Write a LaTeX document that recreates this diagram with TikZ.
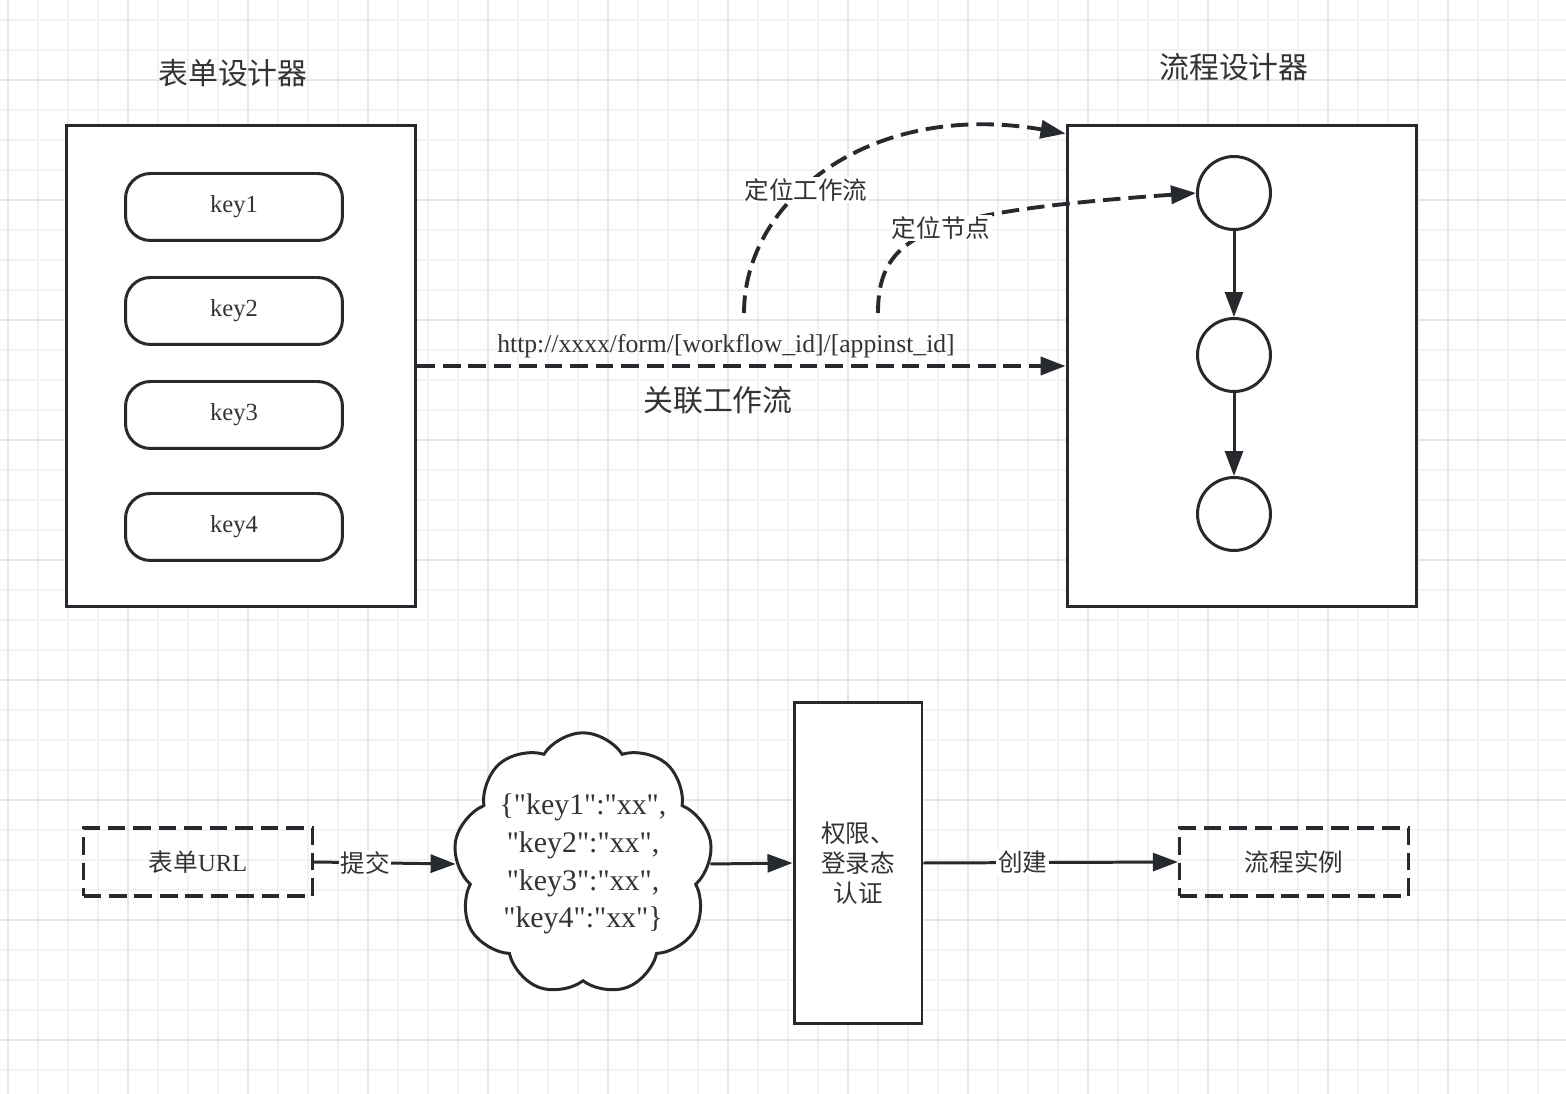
\documentclass[tikz,border=0pt]{standalone}
\usepackage{fontspec}
\setmainfont{Liberation Serif}[Ligatures=TeXOff]
\newfontfamily\cjk{Noto Sans CJK SC}
\usetikzlibrary{arrows.meta,positioning,calc,shapes.symbols}
\definecolor{inkline}{HTML}{262A2E}
\definecolor{inktext}{HTML}{333333}
\definecolor{gridminor}{HTML}{F2F2F2}
\definecolor{gridmajor}{HTML}{E6E6E6}
\newcommand{\fsnorm}{\fontsize{14pt}{17pt}\selectfont}
\newcommand{\fsbig}{\fontsize{17pt}{21.5pt}\selectfont}
\tikzset{
  framebox/.style={draw=inkline, line width=1.7pt, fill=white,
                   minimum width=7cm, minimum height=9.64cm},
  keypill/.style={draw=inkline, line width=1.7pt, fill=white, rounded corners=0.5cm,
                  minimum width=4.34cm, minimum height=1.34cm, text=inktext, font=\fsnorm},
  stepnode/.style={circle, draw=inkline, line width=1.7pt, fill=white, minimum size=1.46cm},
  dashbox/.style={draw=inkline, line width=1.9pt, dash pattern=on 10pt off 4.5pt,
                  minimum width=4.58cm, minimum height=1.36cm, text=inktext, font=\fsnorm},
  authbox/.style={draw=inkline, line width=1.7pt, fill=white, minimum width=2.56cm,
                  minimum height=6.44cm, text=inktext, font=\fsnorm, align=center},
  jsoncloud/.style={cloud, cloud puffs=9, cloud puff arc=115, cloud ignores aspect,
                    draw=inkline, line width=1.7pt, fill=white, minimum width=4.9cm,
                    minimum height=5.25cm, inner sep=0pt, text=inktext, font=\fsbig, align=center},
  titletext/.style={text=inktext, font=\fsbig\cjk},
  lbl/.style={text=inktext, font=\fsnorm, fill=white, inner sep=1pt},
  arr/.style={-{Triangle[length=0.5cm, width=0.36cm]}, line width=1.7pt, color=inkline},
  darr/.style={arr, line width=2.2pt, dash pattern=on 10pt off 4.5pt}}

\begin{document}
\begin{tikzpicture}[x=0.02cm, y=-0.02cm]
  \useasboundingbox[fill=white] (0,0) rectangle (1566,1094);
  % grid paper
  \foreach \gx in {8,38,...,1560} \draw[gridminor, line width=0.9pt] (\gx,0) -- (\gx,1094);
  \foreach \gy in {20,50,...,1094} \draw[gridminor, line width=0.9pt] (0,\gy) -- (1566,\gy);
  \foreach \gx in {8,128,...,1560} \draw[gridmajor, line width=0.9pt] (\gx,0) -- (\gx,1094);
  \foreach \gy in {80,200,...,1094} \draw[gridmajor, line width=0.9pt] (0,\gy) -- (1566,\gy);

  % form designer
  \node[titletext] (formtitle) at (233,73) {表单设计器};
  \node[framebox] (formbox) at (241,366) {};
  \node[keypill] (key1) at (234,207) {key1};
  \node[keypill] (key2) at (234,311) {key2};
  \node[keypill] (key3) at (234,415) {key3};
  \node[keypill] (key4) at (234,527) {key4};

  % workflow designer
  \node[titletext] (flowtitle) at (1234,67) {流程设计器};
  \node[framebox] (flowbox) at (1242,366) {};
  \node[stepnode] (step1) at (1234,193) {};
  \node[stepnode] (step2) at (1234,355) {};
  \node[stepnode] (step3) at (1234,514) {};
  \draw[arr] (step1.south) -- (step2.north);
  \draw[arr] (step2.south) -- (step3.north);

  % linking
  \draw[darr] (formbox.east) -- (flowbox.west);
  \node[text=inktext, font=\fontsize{14.6pt}{17pt}\selectfont] (urltext) at (726,346) {http://xxxx/form/[workflow\_id]/[appinst\_id]};
  \node[text=inktext, font=\fsbig\cjk] (linktext) at (718,400) {关联工作流};
  \coordinate (wfstart) at (744,313);
  \coordinate (ndstart) at (878,313);
  \draw[darr] (wfstart) .. controls (744,200) and (870,100) .. ($(flowbox.north west)+(0,10)$);
  \draw[darr] (ndstart) .. controls (878,232) and (930,212) .. (step1.west);
  \node[lbl, font=\fsnorm\cjk] (wflabel) at (806,190) {定位工作流};
  \node[lbl, font=\fsnorm\cjk] (ndlabel) at (941,228) {定位节点};

  % submit flow
  \node[dashbox] (formurl) at (198,862) {{\cjk 表单}URL};
  \node[jsoncloud] (payload) at (583,864)
    {\{"key1":"xx",\\ "key2":"xx",\\ "key3":"xx",\\ "key4":"xx"\}};
  \node[authbox, font=\fsnorm\cjk] (auth) at (858,863) {权限、\\登录态\\认证};
  \node[dashbox, font=\fsnorm\cjk] (instance) at (1294,862) {流程实例};
  \draw[arr] (formurl.east) -- node[lbl, pos=0.36, font=\fsnorm\cjk] (submitlbl) {提交} (payload.west);
  \draw[arr] (payload.east) -- (auth.west);
  \draw[arr] (auth.east) -- node[lbl, pos=0.39, font=\fsnorm\cjk] (createlbl) {创建} (instance.west);
\end{tikzpicture}
\end{document}
